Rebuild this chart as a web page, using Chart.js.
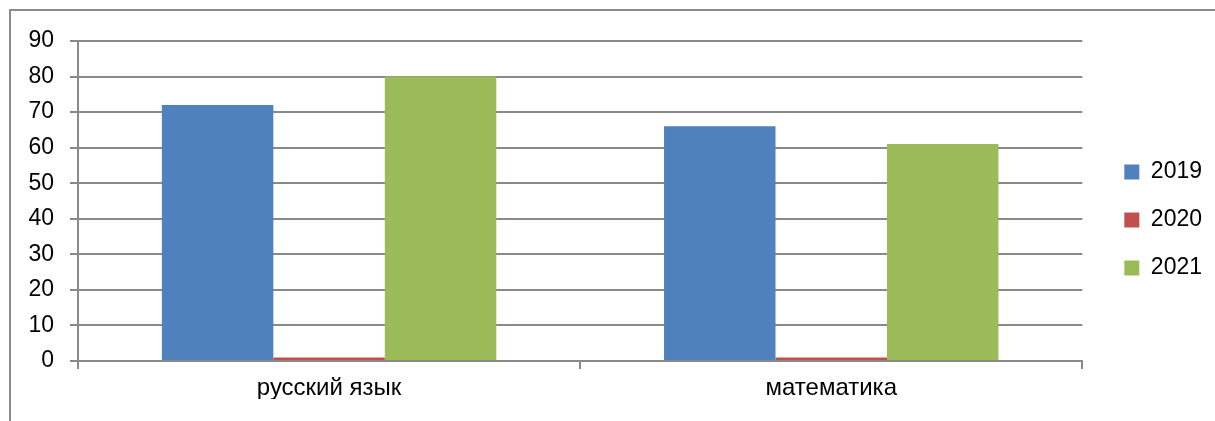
<!DOCTYPE html>
<html>
<head>
<meta charset="utf-8">
<script src="https://cdn.jsdelivr.net/npm/chart.js@4"></script>
<style>
  html, body { margin: 0; padding: 0; background: #fff; overflow: hidden; }
  #frame { position: absolute; left: 9px; top: 9px; width: 1215px; height: 430px; border: 2px solid #8c8c8c; box-sizing: border-box; }
  #wrap { position: absolute; left: 0; top: 0; width: 1215px; height: 421px; }
</style>
</head>
<body>
<div id="frame"></div>
<div id="wrap"><canvas id="chart"></canvas></div>
<script>
// Data
const categories = ['русский язык', 'математика'];
const years = ['2019', '2020', '2021'];
const values2019 = [72, 66];
const values2020 = [1, 1];
const values2021 = [80, 61];
const colors = ['#4F81BD', '#C0504D', '#9BBB59'];

const gridColor = '#898989';
const font = 'Liberation Sans';

new Chart(document.getElementById('chart'), {
  type: 'bar',
  data: {
    labels: categories,
    datasets: [
      { label: years[0], data: values2019, backgroundColor: colors[0] },
      { label: years[1], data: values2020, backgroundColor: colors[1] },
      { label: years[2], data: values2021, backgroundColor: colors[2] },
    ],
  },
  options: {
    responsive: true,
    maintainAspectRatio: false,
    animation: false,
    layout: { padding: { top: 41, right: 3, left: 0, bottom: 22 } },
    datasets: {
      bar: { categoryPercentage: 0.666, barPercentage: 1.0 },
    },
    plugins: {
      legend: {
        position: 'right',
        labels: {
          boxWidth: 15,
          boxHeight: 15,
          padding: 25,
          color: '#000',
          font: { family: font, size: 23 },
        },
      },
      tooltip: { enabled: false },
    },
    scales: {
      y: {
        min: 0,
        max: 90,
        ticks: {
          stepSize: 10,
          padding: 16,
          color: '#000',
          font: { family: font, size: 23 },
        },
        grid: { color: gridColor, lineWidth: 2, tickLength: 8 },
        border: { color: gridColor, width: 2 },
        afterFit: (scale) => { scale.width = 78; },
      },
      // empty spacer between plot and legend
      gap: {
        position: 'right',
        grid: { display: false },
        border: { display: false },
        ticks: { display: false },
        afterFit: (scale) => { scale.width = 17; },
      },
      x: {
        ticks: {
          padding: 5,
          color: '#000',
          font: { family: font, size: 24 },
        },
        grid: { display: true, drawOnChartArea: false, offset: true, color: gridColor, lineWidth: 2, tickLength: 8 },
        border: { color: gridColor, width: 2 },
        afterFit: (scale) => { scale.height = 38; },
      },
    },
  },
});
</script>
</body>
</html>
